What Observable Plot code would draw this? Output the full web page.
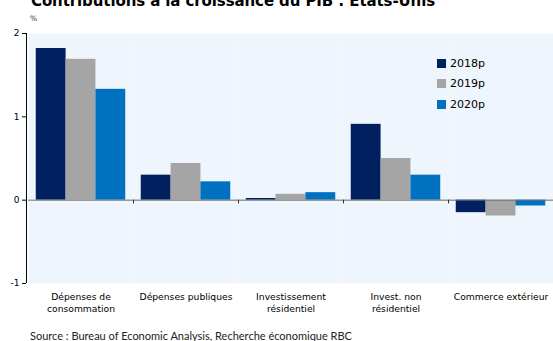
<!DOCTYPE html>
<html><head><meta charset="utf-8">
<script src="https://cdn.jsdelivr.net/npm/d3@7"></script>
<script src="https://cdn.jsdelivr.net/npm/@observablehq/plot@0.6"></script>
<style>
body{margin:0;background:#fff;}
#wrap{position:relative;width:553px;height:341px;overflow:hidden;font-family:"DejaVu Sans",sans-serif;color:#000;}
#title{position:absolute;left:31px;top:-6px;font-size:15px;line-height:15px;font-weight:bold;white-space:nowrap;letter-spacing:-0.1px;}
#unit{position:absolute;left:30px;top:14px;font-size:7.5px;color:#333;}
#chart{position:absolute;left:0;top:0;}
#legend{position:absolute;left:437px;top:53px;font-size:11px;}
#legend .row{display:flex;align-items:center;height:20.5px;}
#legend .sw{width:9px;height:9px;margin-right:4px;}
#source{position:absolute;left:30px;top:329px;font-family:Lato,sans-serif;font-size:11px;color:#222;white-space:nowrap;}
</style></head><body>
<div id="wrap">
<div id="title">Contributions à la croissance du PIB : États-Unis</div>
<div id="unit">%</div>
<div id="chart"></div>
<div id="legend"></div>
<div id="source">Source : Bureau of Economic Analysis, Recherche économique RBC</div>
</div>
<script>
const categories = ["Dépenses de consommation", "Dépenses publiques", "Investissement résidentiel", "Invest. non résidentiel", "Commerce extérieur"];
const categoryLabels = ["Dépenses de\nconsommation", "Dépenses publiques", "Investissement\nrésidentiel", "Invest. non\nrésidentiel", "Commerce extérieur"];
const years = ["2018p", "2019p", "2020p"];
const values2018 = [1.82, 0.30, 0.02, 0.91, -0.15];
const values2019 = [1.69, 0.44, 0.07, 0.50, -0.19];
const values2020 = [1.33, 0.22, 0.09, 0.30, -0.07];
const yTicks = [-1, 0, 1, 2];
const colors = ["#002060", "#a5a5a5", "#0070c0"];

const series = [values2018, values2019, values2020];
const data = [];
categories.forEach((c, i) => years.forEach((y, j) => data.push({cat: c, year: y, value: series[j][i]})));

const W = 553, H = 320, ML = 28, MR = 0, MT = 33, MB = 37;
const paddingOuter = 0.26;
const facetW = (W - ML - MR) / categories.length;
const step = facetW / (years.length + 2 * paddingOuter);
const edgeOffset = -step * (0.5 + paddingOuter);
const labelOf = new Map(categories.map((c, i) => [c, categoryLabels[i]]));

const plot = Plot.plot({
  width: W, height: H,
  marginLeft: ML, marginRight: MR, marginTop: MT, marginBottom: MB,
  style: {fontFamily: "DejaVu Sans, sans-serif", fontSize: "9px", color: "#000", background: "transparent"},
  fx: {domain: categories, padding: 0, round: false, label: null},
  x: {domain: years, paddingInner: 0, paddingOuter: paddingOuter, round: false, axis: null},
  y: {domain: [-1, 2], label: null},
  color: {domain: years, range: colors},
  marks: [
    Plot.frame({fill: "#eef5fc", stroke: null}),
    Plot.barY(data, {fx: "cat", x: "year", y: "value", fill: "year"}),
    Plot.ruleY([0], {stroke: "#6e6e6e", strokeWidth: 1}),
    Plot.ruleX(categories.slice(1).map(c => ({cat: c})), {fx: "cat", x: () => years[0], y1: 0, y2: -0.045, dx: edgeOffset, stroke: "#333"}),
    Plot.ruleX([{cat: categories[0]}], {fx: "cat", x: () => years[0], y1: -1, y2: 2, dx: edgeOffset - 2, stroke: "#000"}),
    Plot.axisY({ticks: yTicks, tickFormat: d => String(d), tickSize: 4, tickPadding: 3, dx: -2, label: null, fontSize: 9}),
    Plot.axisFx({anchor: "bottom", tickSize: 0, tickPadding: 8, label: null, tickFormat: d => labelOf.get(d), lineHeight: 1.3, fontSize: 9.2})
  ]
});
document.getElementById("chart").appendChild(plot);

const legend = document.getElementById("legend");
years.forEach((y, j) => {
  const row = document.createElement("div");
  row.className = "row";
  row.innerHTML = `<span class="sw" style="background:${colors[j]}"></span><span>${y}</span>`;
  legend.appendChild(row);
});
</script>
</body></html>
